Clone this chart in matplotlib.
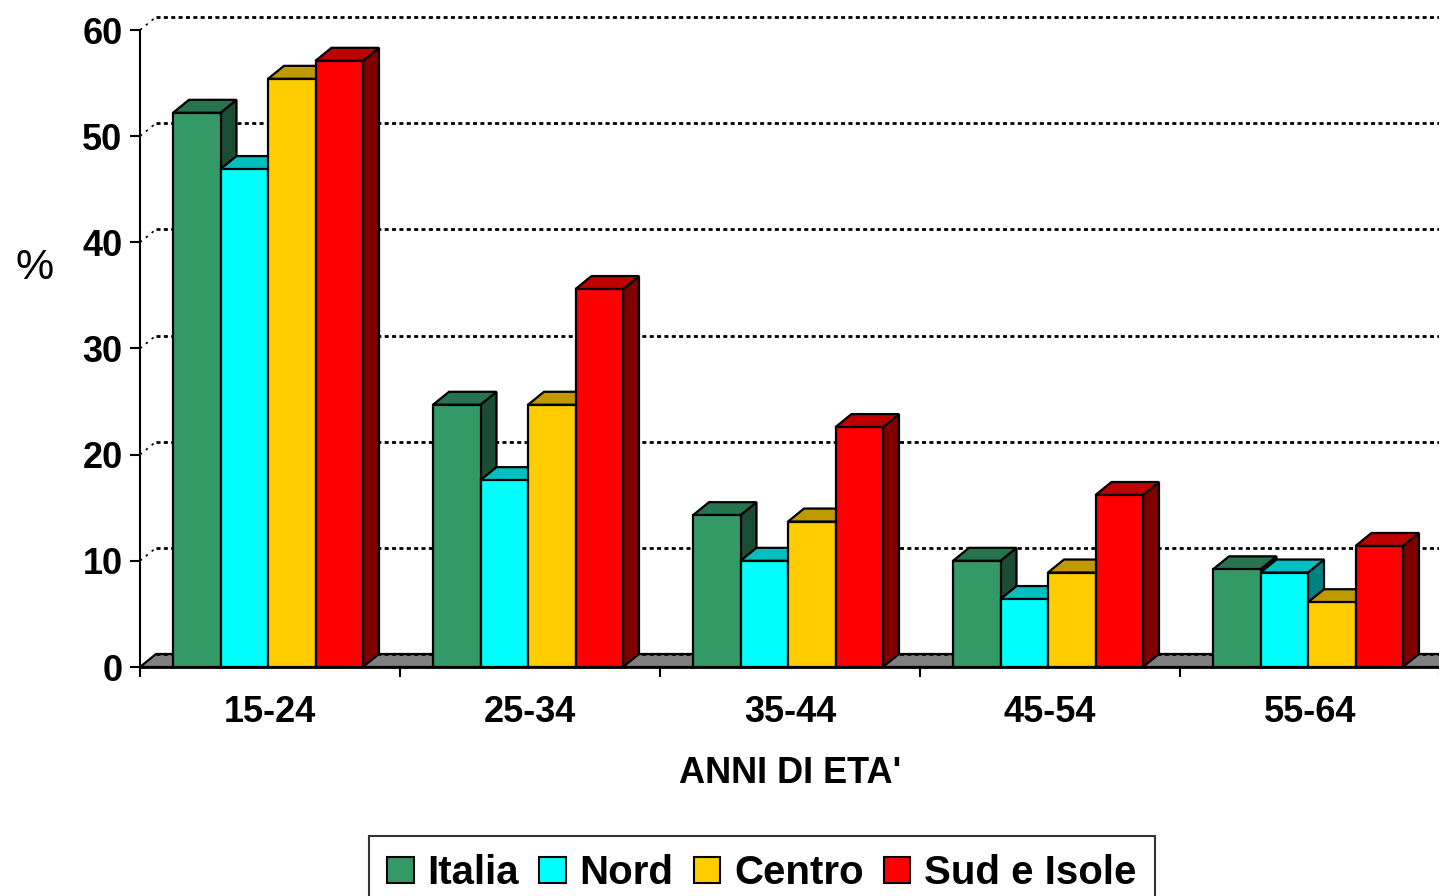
import numpy as np
import matplotlib.pyplot as plt
from matplotlib.patches import Polygon, Patch

plt.rcParams['font.family'] = ['Liberation Sans', 'DejaVu Sans']

categories = ["15-24", "25-34", "35-44", "45-54", "55-64"]
series = ["Italia", "Nord", "Centro", "Sud e Isole"]
italia = [52.2, 24.7, 14.3, 10.0, 9.2]
nord = [46.9, 17.6, 10.0, 6.4, 8.9]
centro = [55.4, 24.7, 13.7, 8.9, 6.1]
sud = [57.1, 35.6, 22.6, 16.2, 11.4]
values = [italia, nord, centro, sud]
colors = ["#339966", "#00FFFF", "#FFCC00", "#FF0000"]


def shade(c, f):
    r, g, b = [int(c[i:i + 2], 16) for i in (1, 3, 5)]
    return (r * f / 255, g * f / 255, b * f / 255)


fig = plt.figure(figsize=(14.39, 8.96), dpi=100)
# y=0 at pixel 667, y=60 at pixel 30; x 0..5 from pixel 140 to 1440
ax = fig.add_axes([140 / 1439, (896 - 667) / 896, 1300 / 1439, 637 / 896])
ax.set_xlim(0, 5)
ax.set_ylim(0, 60)

# 3D depth offset in data units
dx = 16 / 260
dy = 13 / 10.617
w = 47.5 / 260
off = 33 / 260
lw = 1.6

# floor
floor = Polygon([(0, 0), (5, 0), (5 + dx, dy), (dx, dy)], closed=True,
                facecolor="#808080", edgecolor="black", lw=lw, zorder=1, clip_on=False)
ax.add_patch(floor)

# back gridlines and small diagonals
for v in range(0, 61, 10):
    ax.plot([dx, 5 + dx], [v + dy, v + dy], color="black", lw=2.0,
            ls=(0, (1.45, 1.2)), zorder=2, clip_on=False)
    if v > 0:
        ax.plot([0, dx], [v, v + dy], color="black", lw=1.2,
                ls=(0, (1.5, 3)), zorder=2, clip_on=False)

# bars
for i in range(len(categories)):
    for j in range(len(series)):
        h = values[j][i]
        x0 = i + off + j * w
        x1 = x0 + w
        c = colors[j]
        front = Polygon([(x0, 0), (x1, 0), (x1, h), (x0, h)], closed=True,
                        facecolor=c, edgecolor="black", lw=lw, zorder=3, clip_on=False)
        top = Polygon([(x0, h), (x1, h), (x1 + dx, h + dy), (x0 + dx, h + dy)], closed=True,
                      facecolor=shade(c, 0.75), edgecolor="black", lw=lw, zorder=3,
                      clip_on=False)
        side = Polygon([(x1, 0), (x1 + dx, dy), (x1 + dx, h + dy), (x1, h)], closed=True,
                       facecolor=shade(c, 0.5), edgecolor="black", lw=lw, zorder=3,
                       clip_on=False)
        ax.add_patch(side)
        ax.add_patch(top)
        ax.add_patch(front)

# front x axis line
ax.plot([0, 5], [0, 0], color="black", lw=2, zorder=4, clip_on=False)

for s in ["top", "right", "bottom"]:
    ax.spines[s].set_visible(False)
ax.spines["left"].set_linewidth(1.5)
ax.spines["left"].set_zorder(5)

ax.set_yticks(range(0, 61, 10))
ax.set_yticklabels([str(v) for v in range(0, 61, 10)], fontsize=26, fontweight="bold")
ax.tick_params(axis="y", direction="out", length=7.5, width=1.5, pad=5)

ax.set_xticks(range(0, 6))
ax.set_xticklabels([])
ax.tick_params(axis="x", which="major", direction="out", length=7.5, width=1.5)
ax.set_xticks(np.arange(len(categories)) + 0.5, minor=True)
ax.set_xticklabels(categories, minor=True, fontsize=26, fontweight="bold")
ax.tick_params(axis="x", which="minor", length=0, pad=20)

ax.set_xlabel("ANNI DI ETA'", fontsize=26, fontweight="bold", labelpad=19)
fig.text(35 / 1439, 1 - 268 / 896, "%", fontsize=31, ha="center", va="center")

handles = [Patch(facecolor=c, edgecolor="black", lw=1.5) for c in colors]
leg = fig.legend(handles, series, loc="upper center", bbox_to_anchor=(762 / 1439, 1 - 836 / 896),
                 ncol=4, frameon=True, fancybox=False, prop={"size": 29, "weight": "bold"},
                 handlelength=0.65, handleheight=0.65, handletextpad=0.35,
                 columnspacing=0.5, borderpad=0.45, borderaxespad=0)
leg.get_frame().set_edgecolor("black")
leg.get_frame().set_linewidth(1.5)

fig.savefig("out.png", dpi=100)
